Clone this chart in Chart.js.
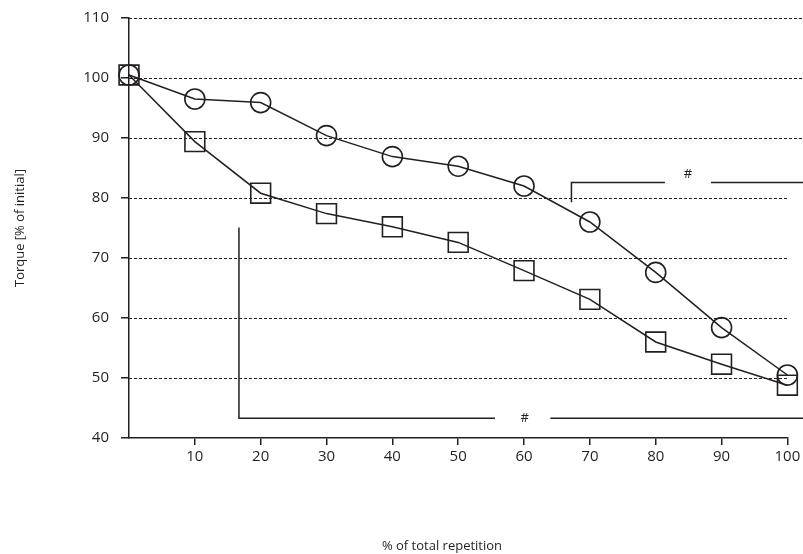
<!DOCTYPE html>
<html lang="en">
<head>
<meta charset="utf-8">
<title>Torque over repetitions</title>
<script src="https://cdn.jsdelivr.net/npm/chart.js@4.4.1/dist/chart.umd.min.js"></script>
<style>
  * { margin: 0; padding: 0; }
  body { background: #fff; width: 803px; height: 554px; overflow: hidden; }
</style>
</head>
<body>
<canvas id="chart" width="803" height="554"></canvas>
<script>
// x: % of total repetition
const reps = [0, 10, 20, 30, 40, 50, 60, 70, 80, 90, 100];
// torque in % of initial, circle series
const circleVals = [100.5, 96.5, 95.9, 90.4, 86.9, 85.3, 82.0, 76.0, 67.6, 58.4, 50.5];
// torque in % of initial, square series
const squareVals = [100.5, 89.4, 80.8, 77.4, 75.2, 72.6, 67.9, 63.1, 56.0, 52.3, 48.8];
const yTicks = [40, 50, 60, 70, 80, 90, 100, 110];
// significance brackets, in data units
const bracketLow = { x: 16.7, top: 75.1, y: 43.3, gapFrom: 55.6, gapTo: 64.0, mark: 60.1 };
const bracketHigh = { x: 67.2, bottom: 79.3, y: 82.6, gapFrom: 81.4, gapTo: 88.4, mark: 84.9, markY: 83.9 };

const ink = '#231f20';
const font = '"Open Sans", "Noto Sans", sans-serif';

const extras = {
  id: 'extras',
  beforeDatasetsDraw(chart) {
    const { ctx, scales: { x, y } } = chart;
    ctx.save();
    ctx.strokeStyle = ink;
    ctx.lineWidth = 1;
    ctx.setLineDash([3, 2]);
    yTicks.forEach(v => {
      if (v === yTicks[0]) return;
      const py = Math.round(y.getPixelForValue(v)) + 0.5;
      // upper lines run out to the edge of the figure
      const end = v >= 90 ? chart.width : x.getPixelForValue(100);
      ctx.beginPath();
      ctx.moveTo(x.getPixelForValue(0), py);
      ctx.lineTo(end, py);
      ctx.stroke();
    });
    ctx.restore();
  },
  afterDatasetsDraw(chart) {
    const { ctx, scales: { x, y } } = chart;
    const edge = chart.width + 2;
    ctx.save();
    ctx.strokeStyle = ink;
    ctx.lineWidth = 1.5;
    ctx.fillStyle = ink;
    ctx.font = '13px ' + font;
    ctx.textAlign = 'center';
    ctx.textBaseline = 'middle';

    // lower bracket
    let bx = x.getPixelForValue(bracketLow.x), by = y.getPixelForValue(bracketLow.y);
    ctx.beginPath();
    ctx.moveTo(bx, y.getPixelForValue(bracketLow.top));
    ctx.lineTo(bx, by);
    ctx.lineTo(x.getPixelForValue(bracketLow.gapFrom), by);
    ctx.moveTo(x.getPixelForValue(bracketLow.gapTo), by);
    ctx.lineTo(edge, by);
    ctx.stroke();
    ctx.fillText('#', x.getPixelForValue(bracketLow.mark), by);

    // upper bracket
    bx = x.getPixelForValue(bracketHigh.x);
    by = y.getPixelForValue(bracketHigh.y);
    ctx.beginPath();
    ctx.moveTo(bx, y.getPixelForValue(bracketHigh.bottom));
    ctx.lineTo(bx, by);
    ctx.lineTo(x.getPixelForValue(bracketHigh.gapFrom), by);
    ctx.moveTo(x.getPixelForValue(bracketHigh.gapTo), by);
    ctx.lineTo(edge, by);
    ctx.stroke();
    ctx.fillText('#', x.getPixelForValue(bracketHigh.mark), y.getPixelForValue(bracketHigh.markY));
    ctx.restore();
  },
  afterDraw(chart) {
    const { ctx, chartArea } = chart;
    ctx.save();
    ctx.fillStyle = ink;
    ctx.font = '13px ' + font;
    ctx.textAlign = 'center';
    ctx.textBaseline = 'middle';
    ctx.fillText('% of total repetition', 442, 546);
    ctx.translate(20, (chartArea.top + chartArea.bottom) / 2);
    ctx.rotate(-Math.PI / 2);
    ctx.fillText('Torque [% of initial]', 0, 0);
    ctx.restore();
  }
};

new Chart(document.getElementById('chart'), {
  type: 'line',
  plugins: [extras],
  data: {
    labels: reps,
    datasets: [
      {
        data: reps.map((r, i) => ({ x: r, y: squareVals[i] })),
        borderColor: ink,
        borderWidth: 1.5,
        pointStyle: 'rect',
        pointRadius: 14,
        pointBorderWidth: 1.6,
        pointBorderColor: ink,
        pointBackgroundColor: 'rgba(0,0,0,0)',
        clip: false
      },
      {
        data: reps.map((r, i) => ({ x: r, y: circleVals[i] })),
        borderColor: ink,
        borderWidth: 1.5,
        pointStyle: 'circle',
        pointRadius: 10,
        pointBorderWidth: 1.6,
        pointBorderColor: ink,
        pointBackgroundColor: 'rgba(0,0,0,0)',
        clip: false
      }
    ]
  },
  options: {
    responsive: false,
    animation: false,
    devicePixelRatio: 1,
    layout: { padding: { top: 18, right: 12, left: 0, bottom: 0 } },
    plugins: { legend: { display: false }, tooltip: { enabled: false } },
    scales: {
      x: {
        type: 'linear',
        min: 0,
        max: 100,
        // let the "100" label run off the edge like the original
        afterFit: s => { s.height = 116; s.paddingRight = 0; s.paddingLeft = 0; },
        ticks: {
          stepSize: 10,
          color: ink,
          padding: 3,
          font: { family: font, size: 15 },
          callback: v => (v === 0 ? '' : v)
        },
        grid: {
          drawOnChartArea: false,
          tickLength: 7,
          lineWidth: 1.5,
          color: c => (c.tick && c.tick.value === 0 ? 'rgba(0,0,0,0)' : ink)
        },
        border: { color: ink, width: 1.5 }
      },
      y: {
        min: 40,
        max: 110,
        afterFit: s => { s.width = 129; s.paddingTop = 0; s.paddingBottom = 0; },
        ticks: {
          stepSize: 10,
          color: ink,
          padding: 12,
          font: { family: font, size: 15 }
        },
        grid: { drawOnChartArea: false, tickLength: 8, lineWidth: 1.5, color: ink },
        border: { color: ink, width: 1.5 }
      }
    }
  }
});
</script>
</body>
</html>
